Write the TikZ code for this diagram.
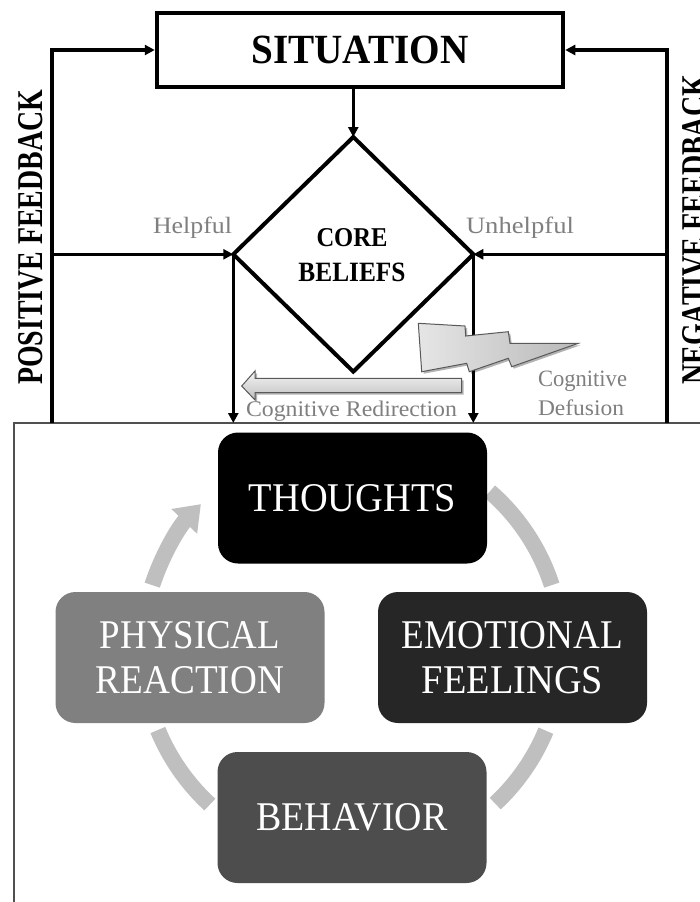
\documentclass[tikz,border=0pt]{standalone}
\usepackage{fontspec}
\setmainfont{Liberation Serif}
\usepackage{graphicx}
\usetikzlibrary{shapes.geometric,arrows.meta,shadows,calc}
\newcommand{\fitbox}[3]{\resizebox{#1pt}{#2pt}{#3}}
\definecolor{ringgray}{HTML}{BFBFBF}
\definecolor{labelgray}{HTML}{7F7F7F}
\definecolor{framegray}{HTML}{505050}
\definecolor{emocol}{HTML}{262626}
\definecolor{behcol}{HTML}{4D4D4D}
\definecolor{phycol}{HTML}{808080}
\begin{document}
\begin{tikzpicture}[x=1pt,y=-1pt,
  conn/.style={line width=3.5pt},
  tipto/.style={-{Triangle[length=10pt,width=10pt]}},
  ring/.style={line width=16pt, draw=ringgray},
  cyc/.style={rounded corners=20pt, minimum width=269pt, minimum height=131pt,
    inner sep=0pt, text=white, align=center, font=\fontsize{20}{45}\selectfont},
  lbl/.style={text=labelgray, inner sep=0pt, anchor=base},
  shapeshade/.style={draw=black!65, line width=1pt,
    drop shadow={shadow xshift=2pt, shadow yshift=-2pt, opacity=0.3, fill=black}}
]
\useasboundingbox (0,0) rectangle (699,902);
\fill[white] (0,0) rectangle (699,902);

% ---- cycle ring ----
\coordinate (rc) at (352,650);
\draw[ring] ($(rc)+(-49:210)$) arc[start angle=-49, end angle=-18, radius=210];
\draw[ring] ($(rc)+(22.6:210)$) arc[start angle=22.6, end angle=47, radius=210];
\draw[ring] ($(rc)+(132.6:210)$) arc[start angle=132.6, end angle=157.6, radius=210];
\draw[ring, -{Triangle[length=24pt,width=34pt]}] ($(rc)+(-162:210)$) arc[start angle=-162, end angle=-136, radius=210];

% ---- cycle boxes ----
\node[cyc, fill=black] (th) at (352.5,498) {\fitbox{207}{27}{THOUGHTS}};
\node[cyc, fill=phycol] (ph) at (190,657.5) {\fitbox{180}{27}{PHYSICAL}\\\fitbox{188}{27}{REACTION}};
\node[cyc, fill=emocol] (em) at (512.5,657.5) {\fitbox{221}{27}{EMOTIONAL}\\\fitbox{181}{27}{FEELINGS}};
\node[cyc, fill=behcol] (be) at (352,817.5) {\fitbox{191}{27}{BEHAVIOR}};

% ---- frame of the lower part ----
\coordinate (ftl) at (14,423);
\draw[framegray, line width=1.5pt] (14,910) -- (ftl) -- (710,423);

% ---- situation and core beliefs ----
\node[draw, line width=4.5pt, minimum width=406pt, minimum height=74pt, inner sep=0pt]
  (sit) at (360,50) {\fitbox{217}{27.5}{\bfseries SITUATION}};
\node[draw, diamond, aspect=1.02, line width=4pt, minimum width=240pt, minimum height=234.6pt,
  inner sep=0pt, outer sep=0pt] (core) at (353.3,254.3) {};
\node[inner sep=0pt, anchor=base] (coret) at (352,246) {\fitbox{71}{18}{\bfseries CORE}};
\node[inner sep=0pt, anchor=base] (belt) at (352,281) {\fitbox{107}{18.5}{\bfseries BELIEFS}};

% ---- feedback loops ----
\coordinate (lb) at (52,423);
\coordinate (rb) at (667,423);
\draw[conn, tipto] (lb) |- (sit.west);
\draw[conn, tipto] (rb) |- (sit.east);
\draw[conn, tipto] (lb |- core.west) -- (core.west);
\draw[conn, tipto] (rb |- core.east) -- (core.east);
\draw[conn, tipto] (core.north |- sit.south) -- (core.north);
\draw[conn, tipto] (core.west) -- (core.west |- ftl);
\draw[conn, tipto] (core.east) -- (core.east |- ftl);

% ---- side texts ----
\node[rotate=90, anchor=base west, inner sep=0pt] (pos) at (42,385)
  {\fitbox{295}{24}{\bfseries POSITIVE FEEDBACK}};
\node[rotate=90, anchor=base west, inner sep=0pt] (neg) at (706,385)
  {\fitbox{310}{24}{\bfseries NEGATIVE FEEDBACK}};

% ---- labels ----
\node[lbl] (help) at (192.5,233) {\fitbox{79}{16.5}{Helpful}};
\node[lbl] (unhelp) at (520,233) {\fitbox{108}{16.5}{Unhelpful}};
\node[lbl] (redir) at (351.5,416.5) {\fitbox{211}{15.5}{Cognitive Redirection}};
\node[lbl] (cog) at (582.5,386.5) {\fitbox{89}{15.5}{Cognitive}};
\node[lbl] (defu) at (581,415) {\fitbox{86}{15.7}{Defusion}};

% ---- redirection arrow ----
\path[shapeshade, top color=gray!8, bottom color=gray!50]
  (241.7,386) -- (255,371) -- (255,378.3) -- (461.7,378.3) -- (461.7,392.7)
  -- (255,392.7) -- (255,400) -- cycle;

% ---- defusion bolt ----
\path[shapeshade, left color=gray!20, right color=gray!55]
  (418.3,323.3) -- (465,326) -- (465.7,336) -- (508.3,331.7) -- (510,343.3)
  -- (578.3,343.3) -- (511.7,366.7) -- (508.3,358.3) -- (469.3,371.7)
  -- (466.7,363.3) -- (421.7,371.7) -- cycle;
\end{tikzpicture}
\end{document}
